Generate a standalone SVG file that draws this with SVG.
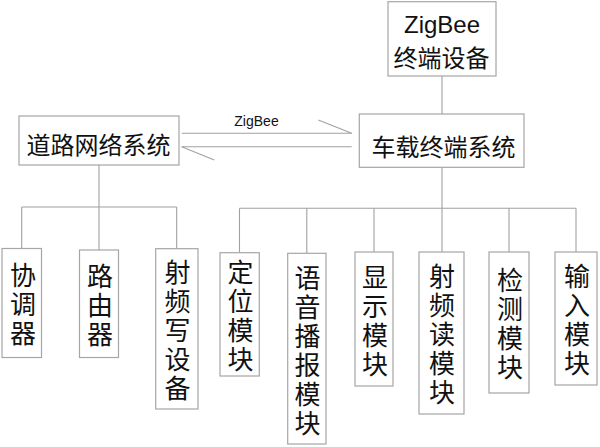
<svg xmlns="http://www.w3.org/2000/svg" width="600" height="447" viewBox="0 0 600 447">
<style>
.box{fill:#fff;stroke:#a6a6a6;stroke-width:1.2}
.ln{stroke:#a0a0a0;stroke-width:1.1;fill:none}
.t{font-family:"Noto Sans CJK SC","Liberation Sans",sans-serif;fill:#111;text-anchor:middle;dominant-baseline:central}
.h{font-size:24px}
.v{font-family:"Noto Sans CJK SC",sans-serif;fill:#111;text-anchor:middle;font-size:26px;writing-mode:vertical-rl;letter-spacing:3px}
.lat{font-family:"Liberation Sans","Noto Sans CJK SC",sans-serif;fill:#111;text-anchor:middle}
</style>
<rect width="600" height="447" fill="#fff"/>
<g id="connectors">
<line class="ln" x1="442" y1="76" x2="442" y2="114"/>
<line class="ln" x1="99" y1="165" x2="99" y2="207"/>
<line class="ln" x1="21.7" y1="207" x2="176.7" y2="207"/>
<line class="ln" x1="21.7" y1="207" x2="21.7" y2="248.5"/>
<line class="ln" x1="99" y1="207" x2="99" y2="250"/>
<line class="ln" x1="176.7" y1="207" x2="176.7" y2="248.7"/>
<line class="ln" x1="442" y1="167.3" x2="442" y2="208.3"/>
<line class="ln" x1="239.5" y1="208.3" x2="576" y2="208.3"/>
<line class="ln" x1="239.5" y1="208.3" x2="239.5" y2="252.7"/>
<line class="ln" x1="306.8" y1="208.3" x2="306.8" y2="253.3"/>
<line class="ln" x1="374" y1="208.3" x2="374" y2="252"/>
<line class="ln" x1="442" y1="208.3" x2="442" y2="252"/>
<line class="ln" x1="509" y1="208.3" x2="509" y2="252"/>
<line class="ln" x1="576" y1="208.3" x2="576" y2="252"/>
<line class="ln" x1="181.7" y1="133.3" x2="351.7" y2="133.3"/>
<line class="ln" x1="318.3" y1="120" x2="351.7" y2="133.3"/>
<line class="ln" x1="181.7" y1="146.7" x2="351.7" y2="146.7"/>
<line class="ln" x1="181.7" y1="146.7" x2="214.3" y2="160"/>
<text class="lat" x="256.5" y="126" font-size="14">ZigBee</text>
</g>
<g id="zigbee-terminal">
<rect class="box" x="388" y="1.7" width="108" height="74.3"/>
<text class="lat" x="442" y="33.3" font-size="24">ZigBee</text>
<text class="t h" x="441.5" y="56.7">终端设备</text>
</g>
<g id="road-network">
<rect class="box" x="19" y="116" width="160" height="49"/>
<text class="t h" x="98.5" y="143.5">道路网络系统</text>
</g>
<g id="vehicle-terminal">
<rect class="box" x="359.3" y="114" width="164.7" height="53.3"/>
<text class="t h" x="443.5" y="145">车载终端系统</text>
</g>
<g id="coordinator">
<rect class="box" x="2" y="248.5" width="39.5" height="109"/>
<text class="v" x="23" y="306">协调器</text>
</g>
<g id="router">
<rect class="box" x="79.5" y="250" width="39" height="107.5"/>
<text class="v" x="100" y="306.8">路由器</text>
</g>
<g id="rf-writer">
<rect class="box" x="155.7" y="248.7" width="42.3" height="160.3"/>
<text class="v" x="177.5" y="331.8">射频写设备</text>
</g>
<g id="positioning">
<rect class="box" x="220" y="252.7" width="39.3" height="123.3"/>
<text class="v" x="240.5" y="317.3">定位模块</text>
</g>
<g id="voice">
<rect class="box" x="287.7" y="253.3" width="38.3" height="190.7"/>
<text class="v" x="307.5" y="351.7">语音播报模块</text>
</g>
<g id="display">
<rect class="box" x="355" y="252" width="38" height="134"/>
<text class="v" x="375" y="322">显示模块</text>
</g>
<g id="rf-reader">
<rect class="box" x="419" y="252" width="45" height="162"/>
<text class="v" x="442" y="336">射频读模块</text>
</g>
<g id="detection">
<rect class="box" x="489" y="252" width="40" height="141"/>
<text class="v" x="510" y="325.5">检测模块</text>
</g>
<g id="input">
<rect class="box" x="555" y="252" width="42" height="133"/>
<text class="v" x="577" y="321.5">输入模块</text>
</g>
</svg>
